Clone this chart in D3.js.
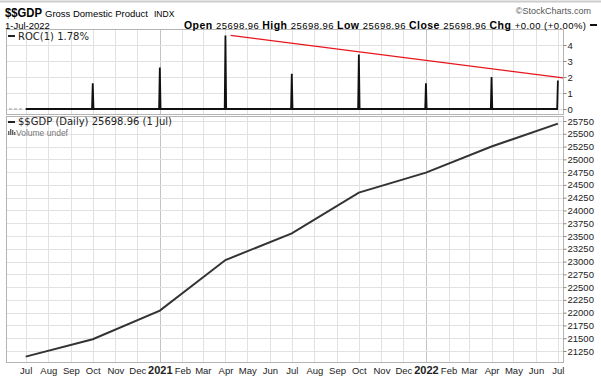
<!DOCTYPE html>
<html>
<head>
<meta charset="utf-8">
<script src="https://cdn.jsdelivr.net/npm/d3@7"></script>
<style>
  body { margin: 0; background: #fff; }
  svg { display: block; font-family: "Liberation Sans", Arial, sans-serif; }
  .axis text { font-size: 9.5px; fill: #222; }
  .axis path { display: none; }
  .axis line { stroke: #888; }
  .lbl { font-family: "DejaVu Sans", Verdana, sans-serif; font-size: 10px; fill: #222; }
</style>
</head>
<body>
<div id="chart"></div>
<script>
const quarterDates = ["2020-07-01", "2020-10-01", "2021-01-01", "2021-04-01", "2021-07-01",
                      "2021-10-01", "2022-01-01", "2022-04-01", "2022-07-01"];
const gdpValues = [21140, 21480, 22040, 23030, 23550, 24350, 24740, 25250, 25698.96];
const rocValues = [null, 1.6, 2.6, 4.6, 2.2, 3.4, 1.6, 2.0, 1.78];
// red trend line in the ROC panel
const trendDates = ["2021-04-08", "2022-07-08"];
const trendValues = [4.6, 1.94];
const rocTicks = [0, 1, 2, 3, 4];
const gdpTicks = d3.range(21250, 25751, 250);

const W = 601, H = 378;
const parse = d3.timeParse("%Y-%m-%d");
const dates = quarterDates.map(parse);

const svg = d3.select("#chart").append("svg")
    .attr("width", W)
    .attr("height", H);

// outer frame line at top
svg.append("line").attr("x1", 0).attr("x2", W).attr("y1", 1.5).attr("y2", 1.5)
    .attr("stroke", "#ccc").attr("stroke-width", 2);

const left = 6, right = 563;
const x = d3.scaleTime()
    .domain([parse("2020-06-04"), parse("2022-07-08")])
    .range([left, right]);

const topPanel = {y0: 29, y1: 114};
const mainPanel = {y0: 116, y1: 362};

const yRoc = d3.scaleLinear().domain([0, 4]).range([109, 45]);
const yGdp = d3.scaleLinear().domain([21250, 25750]).range([351, 121]);

const months = d3.timeMonth.range(parse("2020-07-01"), parse("2022-07-02"));

function drawPanel(p, yScale, ticks) {
  const g = svg.append("g");
  // vertical month grid
  g.selectAll(".vg").data(months).join("line")
      .attr("x1", d => Math.round(x(d)) + 0.5)
      .attr("x2", d => Math.round(x(d)) + 0.5)
      .attr("y1", p.y0).attr("y2", p.y1)
      .attr("stroke", d => d.getMonth() === 0 ? "#c4c4c4" : "#e2e2e2");
  // horizontal grid
  g.selectAll(".hg").data(ticks).join("line")
      .attr("x1", left).attr("x2", right)
      .attr("y1", d => Math.round(yScale(d)) + 0.5)
      .attr("y2", d => Math.round(yScale(d)) + 0.5)
      .attr("stroke", "#e2e2e2");
  g.append("rect")
      .attr("x", left + 0.5).attr("y", p.y0 + 0.5)
      .attr("width", right - left).attr("height", p.y1 - p.y0)
      .attr("fill", "none").attr("stroke", "#b4b4b4");
  // right axis
  svg.append("g")
      .attr("class", "axis")
      .attr("transform", `translate(${right + 0.5},0)`)
      .call(d3.axisRight(yScale).tickValues(ticks).tickSize(3).tickPadding(1).tickFormat(d3.format("d")));
}

drawPanel(topPanel, yRoc, rocTicks);
drawPanel(mainPanel, yGdp, gdpTicks);

// ROC baseline, dashed lead-in and spikes
svg.append("line")
    .attr("x1", left + 3).attr("x2", x(dates[0]) - 3)
    .attr("y1", yRoc(0)).attr("y2", yRoc(0))
    .attr("stroke", "#999").attr("stroke-dasharray", "3,2");

const day = 24 * 3600 * 1000;
const rocPts = [[dates[0], 0]];
dates.forEach((d, i) => {
  if (rocValues[i] == null) return;
  rocPts.push([new Date(+d - day), 0], [d, rocValues[i]]);
  if (i < dates.length - 1) rocPts.push([new Date(+d + day), 0]);
});
svg.append("path")
    .attr("d", d3.line().x(d => x(d[0])).y(d => yRoc(d[1]))(rocPts))
    .attr("fill", "none").attr("stroke", "#111").attr("stroke-width", 1.8)
    .attr("stroke-linejoin", "miter");

svg.append("path")
    .attr("d", d3.line().x(d => x(d[0])).y(d => yRoc(d[1]))(trendDates.map((t, i) => [parse(t), trendValues[i]])))
    .attr("stroke", "#e8141c").attr("stroke-width", 1.2).attr("fill", "none");

// GDP line
svg.append("path")
    .attr("d", d3.line().x(d => x(d[0])).y(d => yGdp(d[1]))(dates.map((d, i) => [d, gdpValues[i]])))
    .attr("fill", "none").attr("stroke", "#333").attr("stroke-width", 2);

// bottom axis
const xAxis = svg.append("g")
    .attr("class", "axis")
    .attr("transform", `translate(0,${mainPanel.y1 + 2})`)
    .call(d3.axisBottom(x).tickValues(months).tickSize(0).tickPadding(3)
      .tickFormat(d => d.getMonth() === 0 ? d3.timeFormat("%Y")(d) : d3.timeFormat("%b")(d)));
xAxis.selectAll("text")
    .filter(d => d.getMonth() === 0)
    .style("font-weight", "bold").style("font-size", "11px").attr("dy", "0.65em");

// header
svg.append("text").attr("x", 5).attr("y", 17)
    .attr("textLength", 37).attr("lengthAdjust", "spacingAndGlyphs")
    .style("font-size", "13px").style("font-weight", "bold").text("$$GDP");
svg.append("text").attr("x", 45).attr("y", 17)
    .style("font-size", "9.5px").text("Gross Domestic Product");
svg.append("text").attr("x", 154).attr("y", 17)
    .style("font-size", "8.5px").text("INDX");
svg.append("text").attr("x", 5).attr("y", 28.5)
    .style("font-size", "9.5px").text("1-Jul-2022");
svg.append("text").attr("x", 591).attr("y", 14)
    .attr("text-anchor", "end").style("font-size", "9px").attr("fill", "#555")
    .text("\u00A9StockCharts.com");

const hdr = svg.append("text").attr("x", 184).attr("y", 28.5)
    .attr("textLength", 402).attr("lengthAdjust", "spacing")
    .style("font-size", "9.5px");
[["Open ", true], ["25698.96 ", false], ["High ", true], ["25698.96 ", false],
 ["Low ", true], ["25698.96 ", false], ["Close ", true], ["25698.96 ", false],
 ["Chg ", true], ["+0.00 (+0.00%)", false]].forEach(([t, b]) => {
  hdr.append("tspan").style("font-weight", b ? "bold" : "normal")
     .style("font-size", b ? "10.5px" : "9.5px").text(t);
});
svg.append("line").attr("x1", 590).attr("x2", 597).attr("y1", 25).attr("y2", 25)
    .attr("stroke", "#111").attr("stroke-width", 2);

// panel legends
svg.append("line").attr("x1", 8).attr("x2", 15).attr("y1", 36).attr("y2", 36)
    .attr("stroke", "#222").attr("stroke-width", 2);
svg.append("text").attr("class", "lbl").attr("x", 18).attr("y", 40).text("ROC(1) 1.78%");

svg.append("line").attr("x1", 8).attr("x2", 15).attr("y1", 122).attr("y2", 122)
    .attr("stroke", "#222").attr("stroke-width", 2);
svg.append("text").attr("class", "lbl").attr("x", 18).attr("y", 125).text("$$GDP (Daily) 25698.96 (1 Jul)");
[[8, 4], [10, 6], [12, 5], [14, 3]].forEach(([bx, bh]) => {
  svg.append("rect").attr("x", bx).attr("y", 135 - bh).attr("width", 1.4).attr("height", bh).attr("fill", "#666");
});
svg.append("text").attr("x", 16).attr("y", 135.5)
    .style("font-size", "8.5px").attr("fill", "#777").text("Volume undef");
</script>
</body>
</html>
